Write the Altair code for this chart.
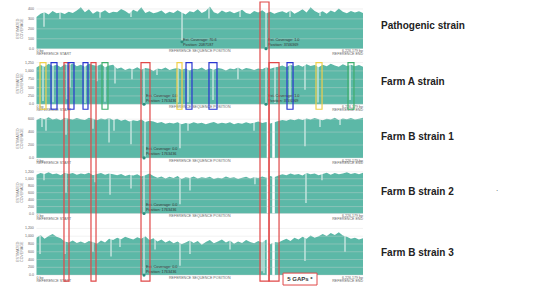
import altair as alt
import numpy as np
import pandas as pd

# ---------------- data ----------------
strains = ["Pathogenic strain", "Farm A strain", "Farm B strain 1",
           "Farm B strain 2", "Farm B strain 3"]
genome_end_mb = 6.226179

# coverage as % of each panel's top gridline, sampled along the genome
cov_pathogenic = [80, 88, 92, 86, 95, 89, 91, 87, 93, 90,
                  96, 104, 92, 99, 88, 94, 91, 97, 89, 93,
                  92, 100, 95, 88, 98, 93, 104, 90, 94, 89,
                  92, 96, 88, 93, 90, 97, 91, 86, 94, 92,
                  99, 90, 95, 106, 92, 88, 96, 91, 94, 89,
                  93, 98, 90, 87, 95, 91, 97, 89, 93, 88,
                  92, 94, 90, 96, 88, 93, 99, 91, 104, 95,
                  90, 94, 88, 96, 92, 101, 93, 89, 95, 91,
                  94, 90]
cov_farm_a = [88, 94, 90, 97, 92, 95, 89, 96, 93, 98,
              91, 95, 90, 97, 94, 92, 96, 89, 93, 95,
              85, 88, 82, 86, 84, 89, 83, 87, 85, 80,
              86, 84, 88, 82, 85, 87, 83, 86, 81, 85,
              84, 88, 82, 86, 83, 87, 85, 81, 86, 84,
              88, 83, 87, 85, 82, 86, 84, 89, 85, 88,
              90, 93, 89, 95, 91, 94, 90, 96, 92, 94,
              89, 95, 91, 97, 93, 90, 96, 92, 95, 91,
              94, 90]
cov_farm_b1 = [98, 103, 100, 105, 99, 102, 97, 104, 101, 99,
               103, 100, 98, 104, 101, 97, 102, 99, 103, 98,
               101, 96, 99, 94, 97, 95, 99, 93, 96, 94,
               90, 93, 88, 91, 89, 92, 87, 90, 88, 92,
               89, 91, 87, 90, 93, 88, 91, 89, 92, 87,
               90, 88, 92, 89, 91, 94, 90, 93, 89, 92,
               95, 98, 96, 100, 97, 101, 98, 102, 99, 103,
               100, 97, 101, 99, 104, 98, 102, 100, 103, 99,
               101, 104]
cov_farm_b2 = [93, 97, 95, 99, 94, 96, 92, 98, 95, 97,
               93, 96, 94, 98, 92, 95, 97, 93, 96, 94,
               92, 95, 90, 93, 91, 94, 89, 92, 96, 90,
               86, 89, 84, 88, 85, 90, 83, 87, 85, 89,
               84, 87, 85, 88, 83, 86, 84, 89, 85, 87,
               83, 86, 88, 84, 87, 85, 89, 86, 90, 87,
               91, 94, 92, 96, 93, 95, 91, 97, 94, 96,
               92, 95, 98, 93, 97, 94, 96, 99, 95, 97,
               94, 98]
cov_farm_b3 = [80, 86, 78, 84, 88, 82, 79, 72, 70, 74,
               69, 72, 68, 73, 71, 67, 74, 70, 78, 75,
               80, 77, 82, 79, 76, 81, 78, 83, 75, 79,
               72, 76, 70, 74, 68, 72, 66, 70, 74, 69,
               73, 65, 71, 75, 68, 72, 76, 70, 74, 67,
               72, 69, 75, 71, 68, 73, 70, 76, 66, 71,
               70, 74, 78, 73, 80, 76, 82, 78, 85, 80,
               83, 88, 84, 90, 86, 92, 85, 82, 78, 80,
               76, 79]
coverage = [cov_pathogenic, cov_farm_a, cov_farm_b1, cov_farm_b2, cov_farm_b3]

# narrow coverage drops: (position Mb, remaining coverage %)
dips = [
    [(0.143, 55), (0.448, 75), (1.211, 78), (1.802, 80), (2.775, 18), (3.289, 76),
     (3.881, 80), (4.377, 0), (4.834, 80), (5.406, 82)],
    [(0.124, 8), (0.315, 5), (0.582, 12), (0.639, 40), (0.925, 3), (1.154, 55),
     (1.306, 6), (1.497, 50), (1.821, 60), (2.050, 0), (2.298, 70), (2.698, 4),
     (2.889, 5), (3.366, 10), (3.842, 60), (4.377, 0), (4.548, 3), (4.834, 5),
     (5.120, 35), (5.368, 4), (5.979, 10)],
    [(0.105, 80), (0.181, 70), (0.563, 60), (1.077, 75), (1.383, 40), (1.478, 70),
     (1.802, 35), (2.069, 3), (2.736, 25), (2.889, 70), (4.148, 70), (5.120, 30),
     (5.406, 80), (5.788, 85)],
    [(0.143, 80), (0.563, 50), (1.116, 75), (1.402, 45), (1.802, 60), (2.050, 0),
     (2.736, 22), (2.927, 55), (4.166, 70), (5.139, 25), (5.444, 80)],
    [(0.067, 45), (0.543, 45), (1.077, 50), (1.421, 40), (1.592, 60), (2.050, 0),
     (2.260, 55), (2.736, 20), (2.927, 45), (3.690, 55), (4.300, 8), (4.338, 4),
     (5.120, 30), (5.883, 50)],
]
# zero-coverage gaps (Mb) in the Farm B strains
gap_positions = [4.415, 4.520]
gap_strains = [2, 3, 4]

tick_labels = [
    ["400", "300", "200", "100", "0.0"],
    ["1,250", "1,000", "750", "500", "250", "0.0"],
    ["600", "400", "200", "0.0"],
    ["1,200", "1,000", "800", "600", "400", "200", "0.0"],
    ["1,200", "1,000", "800", "600", "400", "200", "0.0"],
]

# hover read-outs: strain, text pos, line 1, line 2, marker pos, marker coverage %
readouts = [
    (0, 2.794, "Est. Coverage: 70.6", "Position: 2087187", 2.775, 17.5),
    (0, 4.415, "Est. Coverage: 1.0", "Position: 3746369", 4.377, 0),
    (1, 2.088, "Est. Coverage: 0.0", "Position: 1763436", 2.050, 0),
    (1, 4.415, "Est. Coverage: 1.0", "Position: 3746369", 4.377, 0),
    (2, 2.088, "Est. Coverage: 0.0", "Position: 1763436", 2.050, 0),
    (3, 2.088, "Est. Coverage: 0.0", "Position: 1763436", 2.050, 0),
    (4, 2.088, "Est. Coverage: 0.0", "Position: 1763436", 2.050, 0),
]

# highlight boxes: colour, start Mb, end Mb, first strain, last strain
box_color = ["red", "red", "red", "red", "red",
             "blue", "blue", "blue", "blue", "blue", "blue",
             "yellow", "yellow", "yellow", "green", "green"]
box_start = [0.524, 1.039, 1.993, 4.262, 4.434,
             0.277, 0.601, 0.887, 2.851, 3.289, 4.777,
             0.067, 2.679, 5.330, 1.249, 5.940]
box_end = [0.620, 1.135, 2.164, 4.434, 4.625,
           0.391, 0.715, 0.982, 2.965, 3.442, 4.892,
           0.181, 2.775, 5.445, 1.363, 6.054]
box_first = [1, 1, 1, 0, 1, 1, 1, 1, 1, 1, 1, 1, 1, 1, 1, 1]
box_last = [4, 4, 4, 4, 4, 1, 1, 1, 1, 1, 1, 1, 1, 1, 1, 1]

# ---------------- layout ----------------
TEAL = "#5cb8a7"
panel_top = [7, 61, 118, 171, 228]     # y of the top gridline
panel_base = [47, 103, 157, 213, 275]  # y of the zero line
px_mb = genome_end_mb / 326.5
XDOM = [-36.5 * px_mb, (542 - 36.5) * px_mb]
xs = alt.Scale(domain=XDOM, nice=False, zero=False)
ys = alt.Scale(domain=[0, 288], reverse=True, nice=False, zero=False)
FONT = "Liberation Sans"


def yv(k, pct):
    return panel_base[k] - pct / 100.0 * (panel_base[k] - panel_top[k])


area_rows, grid_rows, tick_rows, dip_rows, gap_rows = [], [], [], [], []
lab_left, lab_mid, lab_right, titles = [], [], [], []
for k, name in enumerate(strains):
    vals = coverage[k]
    for x, v in zip(np.linspace(0, genome_end_mb, len(vals)), vals):
        area_rows.append(dict(strain=name, pos=x, y=yv(k, v), y2=panel_base[k]))
    labs = tick_labels[k]
    for j, lab in enumerate(labs):
        y = panel_top[k] + j * (panel_base[k] - panel_top[k]) / (len(labs) - 1)
        grid_rows.append(dict(pos=0, pos2=genome_end_mb, y=y))
        tick_rows.append(dict(pos=-0.05, y=y, t=lab))
    for p, d in dips[k]:
        dip_rows.append(dict(pos=p, y=panel_top[k] - 8, y2=yv(k, d)))
    if k in gap_strains:
        for p in gap_positions:
            gap_rows.append(dict(pos=p, y=panel_top[k] - 8, y2=panel_base[k]))
    b = panel_base[k]
    lab_left += [dict(pos=0, y=b + 2.8, t="0 bp"), dict(pos=0, y=b + 5.6, t="REFERENCE START")]
    lab_mid.append(dict(pos=genome_end_mb / 2, y=b + 2.8, t="REFERENCE SEQUENCE POSITION"))
    lab_right += [dict(pos=genome_end_mb, y=b + 2.8, t="6,226,179 bp"),
                  dict(pos=genome_end_mb, y=b + 5.6, t="REFERENCE END")]
    titles.append(dict(pos=-0.36, y=(panel_top[k] + b) / 2, t="ESTIMATED\nCOVERAGE"))

read_rows, mark_rows = [], []
for k, p, l1, l2, mp, mv in readouts:
    read_rows += [dict(pos=p, y=panel_base[k] - 8.5, t=l1), dict(pos=p, y=panel_base[k] - 3.5, t=l2)]
    mark_rows.append(dict(pos=mp, y=yv(k, mv)))

box_rows = []
for c, s, e, f, l in zip(box_color, box_start, box_end, box_first, box_last):
    top = 0 if f == 0 else panel_top[f]
    bot = panel_base[l] + (6 if l == 4 else 5)
    box_rows.append(dict(c=c, pos=s, pos2=e, y=top, y2=bot))

side_rows = [dict(pos=(381 - 36.5) * px_mb, y=yv(k, 50) + (-1 if k else 0), t=n)
             for k, n in enumerate(strains)]
side_rows[0]["y"] = 24
side_rows[1]["y"] = 81
side_rows[2]["y"] = 136
side_rows[3]["y"] = 191
side_rows[4]["y"] = 253


def X(f="pos"):
    return alt.X(f + ":Q", scale=xs, axis=None)


def Y(f="y"):
    return alt.Y(f + ":Q", scale=ys, axis=None)


area = alt.Chart(pd.DataFrame(area_rows)).mark_area(color=TEAL, interpolate="linear").encode(
    x=X(), y=Y(), y2="y2:Q", detail="strain:N")
dipl = alt.Chart(pd.DataFrame(dip_rows)).mark_rule(color="white", opacity=0.72, strokeWidth=1.3).encode(
    x=X(), y=Y(), y2="y2:Q")
gapl = alt.Chart(pd.DataFrame(gap_rows)).mark_rule(color="white", strokeWidth=2.6).encode(
    x=X(), y=Y(), y2="y2:Q")
grid = alt.Chart(pd.DataFrame(grid_rows)).mark_rule(color="#d9d9d9", opacity=0.6, strokeWidth=0.6).encode(
    x=X(), x2="pos2:Q", y=Y())
ticks = alt.Chart(pd.DataFrame(tick_rows)).mark_text(
    align="right", baseline="middle", fontSize=3.6, font=FONT, color="#666").encode(x=X(), y=Y(), text="t:N")
tl = alt.Chart(pd.DataFrame(lab_left)).mark_text(
    align="left", baseline="middle", fontSize=3.6, font=FONT, color="#666").encode(x=X(), y=Y(), text="t:N")
tm = alt.Chart(pd.DataFrame(lab_mid)).mark_text(
    align="center", baseline="middle", fontSize=3.6, font=FONT, color="#666").encode(x=X(), y=Y(), text="t:N")
tr = alt.Chart(pd.DataFrame(lab_right)).mark_text(
    align="right", baseline="middle", fontSize=3.6, font=FONT, color="#666").encode(x=X(), y=Y(), text="t:N")
tt = alt.Chart(pd.DataFrame(titles)).mark_text(
    align="center", baseline="middle", fontSize=3.6, font=FONT, color="#777", angle=270,
    lineBreak="\n", lineHeight=4.5).encode(x=X(), y=Y(), text="t:N")
reads = alt.Chart(pd.DataFrame(read_rows)).mark_text(
    align="left", baseline="middle", fontSize=3.8, font=FONT, color="#333").encode(x=X(), y=Y(), text="t:N")
marks = alt.Chart(pd.DataFrame(mark_rows)).mark_circle(size=10, color="#2e8d7d", opacity=1).encode(
    x=X(), y=Y())
boxes = alt.Chart(pd.DataFrame(box_rows)).mark_rect(fillOpacity=0, strokeWidth=1.2).encode(
    x=X(), x2="pos2:Q", y=Y(), y2="y2:Q",
    stroke=alt.Stroke("c:N", legend=None,
                      scale=alt.Scale(domain=["red", "blue", "yellow", "green"],
                                      range=["#e04848", "#2a36d0", "#f0d04a", "#3fae6c"])))
gapbox = alt.Chart(pd.DataFrame([dict(pos=4.701, pos2=5.349, y=273, y2=285)])).mark_rect(
    fill="white", stroke="#e04848", strokeWidth=1).encode(x=X(), x2="pos2:Q", y=Y(), y2="y2:Q")
gaptext = alt.Chart(pd.DataFrame([dict(pos=5.025, y=279, t="5 GAPs *")])).mark_text(
    align="center", baseline="middle", fontSize=6, font=FONT, fontWeight="bold", color="#333").encode(
    x=X(), y=Y(), text="t:N")
side = alt.Chart(pd.DataFrame(side_rows)).mark_text(
    align="left", baseline="middle", fontSize=10, font=FONT, fontWeight="bold", color="#222").encode(
    x=X(), y=Y(), text="t:N")
dot = alt.Chart(pd.DataFrame([dict(pos=(497 - 36.5) * px_mb, y=188, t=".")])).mark_text(
    align="center", baseline="middle", fontSize=8, font=FONT, color="#555").encode(x=X(), y=Y(), text="t:N")

chart = alt.layer(area, dipl, gapl, grid, ticks, tl, tm, tr, tt, reads, marks, boxes,
                  gapbox, gaptext, side, dot).properties(
    width=542, height=288, padding=0,
    autosize=alt.AutoSizeParams(type="fit", contains="padding"),
    background="white").configure_view(stroke=None)

chart.save("out.html", embed_options={"renderer": "svg", "actions": False})
